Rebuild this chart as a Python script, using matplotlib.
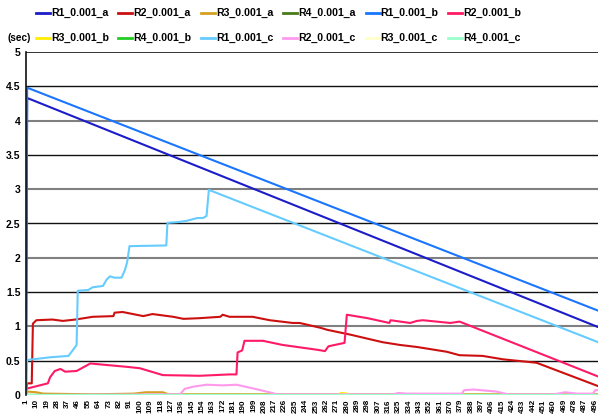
import matplotlib
matplotlib.use("Agg")
import matplotlib.pyplot as plt
from matplotlib.lines import Line2D

plt.rcParams['font.family'] = ['Liberation Sans', 'DejaVu Sans']

names = ["R1_0.001_a", "R2_0.001_a", "R3_0.001_a", "R4_0.001_a", "R1_0.001_b", "R2_0.001_b",
         "R3_0.001_b", "R4_0.001_b", "R1_0.001_c", "R2_0.001_c", "R3_0.001_c", "R4_0.001_c"]
colors = ["#1c1cc8", "#cc1010", "#d4a020", "#4a7a1a", "#1a75ff", "#ff1a66",
          "#ffee00", "#22cc22", "#66ccff", "#ff99ee", "#ffffcc", "#99ffcc"]

# category positions / values for each series (breakpoints)
r1a_x = [1, 2, 500]
r1a_y = [0, 4.33, 0.98]
r2a_x = [1, 2, 6, 7, 10, 24, 33, 44, 59, 77, 78, 85, 103, 111, 129, 138, 152, 170, 172, 178, 198, 213,
         233, 239, 257, 263, 283, 311, 326, 341, 367, 378, 398, 416, 445, 500]
r2a_y = [0.03, 0.17, 0.17, 1.04, 1.09, 1.10, 1.08, 1.10, 1.14, 1.15, 1.20, 1.21, 1.15, 1.18, 1.14, 1.11,
         1.12, 1.14, 1.17, 1.14, 1.14, 1.09, 1.05, 1.05, 0.98, 0.95, 0.88, 0.77, 0.73, 0.70, 0.63, 0.58,
         0.57, 0.52, 0.47, 0.12]
r3a_x = [1, 2, 10, 16, 60, 95, 105, 120, 125, 500]
r3a_y = [0.0, 0.05, 0.04, 0.02, 0.01, 0.02, 0.04, 0.04, 0.01, 0.01]
r4a_x = [1, 500]
r4a_y = [0.0, 0.0]
r1b_x = [1, 2, 500]
r1b_y = [0, 4.48, 1.22]
r2b_x = [1, 20, 22, 26, 31, 35, 45, 57, 63, 89, 100, 120, 152, 178, 184, 185, 189, 191, 207, 224, 254,
         261, 264, 278, 280, 298, 317, 318, 335, 341, 346, 370, 378, 500]
r2b_y = [0.09, 0.17, 0.26, 0.35, 0.38, 0.34, 0.35, 0.46, 0.45, 0.41, 0.39, 0.29, 0.28, 0.30, 0.30, 0.62,
         0.65, 0.79, 0.79, 0.73, 0.66, 0.64, 0.71, 0.76, 1.17, 1.12, 1.05, 1.09, 1.05, 1.08, 1.09, 1.05,
         1.07, 0.26]
r3b_x = [1, 272, 275, 280, 285, 500]
r3b_y = [0.0, 0.0, 0.03, 0.02, 0.0, 0.0]
r4b_x = [1, 500]
r4b_y = [0.0, 0.0]
r1c_x = [1, 2, 22, 38, 42, 45, 46, 55, 59, 68, 71, 74, 78, 84, 87, 89, 91, 123, 124, 133, 141, 150, 155,
         158, 160, 500]
r1c_y = [0.0, 0.51, 0.55, 0.57, 0.66, 0.73, 1.52, 1.53, 1.57, 1.59, 1.68, 1.73, 1.71, 1.71, 1.82, 1.94,
         2.17, 2.18, 2.51, 2.52, 2.54, 2.58, 2.58, 2.61, 2.99, 0.76]
r2c_x = [1, 135, 139, 146, 158, 172, 184, 200, 215, 219, 320, 325, 332, 380, 382, 390, 410, 420, 460,
         470, 480, 494, 496, 500]
r2c_y = [0.0, 0.01, 0.09, 0.12, 0.15, 0.14, 0.15, 0.09, 0.03, 0.01, 0.01, 0.03, 0.02, 0.02, 0.07, 0.08,
         0.05, 0.01, 0.01, 0.04, 0.02, 0.02, 0.07, 0.07]
r3c_x = [1, 500]
r3c_y = [0.0, 0.0]
r4c_x = [1, 500]
r4c_y = [0.0, 0.0]

series = [(r1a_x, r1a_y), (r2a_x, r2a_y), (r3a_x, r3a_y), (r4a_x, r4a_y), (r1b_x, r1b_y), (r2b_x, r2b_y),
          (r3b_x, r3b_y), (r4b_x, r4b_y), (r1c_x, r1c_y), (r2c_x, r2c_y), (r3c_x, r3c_y), (r4c_x, r4c_y)]

tick_cats = list(range(1, 497, 9))

W, H = 598, 415
fig = plt.figure(figsize=(W / 100, H / 100), dpi=100)
ax = fig.add_axes([26 / W, 1 - 395 / H, (598 - 26) / W + 0.004, (395 - 52) / H])

# gridlines
for v in [0.5, 1.5, 2.5, 3.5, 4.5]:
    ax.axhline(v, color="#111111", lw=1.0, zorder=0)
for v in [0, 1, 2, 3, 4]:
    ax.axhline(v, color="#808080", lw=1.5, zorder=0)
ax.axhline(5, color="#111111", lw=1.2, zorder=0)

for (xs, ys), c, n in zip(series, colors, names):
    ax.plot(xs, ys, color=c, lw=1.5, label=n, solid_joinstyle="round")

ax.set_xlim(1, 500.5)
ax.set_ylim(0, 5)
for s in ["top", "right", "bottom"]:
    ax.spines[s].set_visible(False)
ax.spines["left"].set_color("#111111")
ax.spines["left"].set_linewidth(1.2)
ax.set_yticks([0, 0.5, 1, 1.5, 2, 2.5, 3, 3.5, 4, 4.5, 5])
ax.set_yticklabels(["0", "0.5", "1", "1.5", "2", "2.5", "3", "3.5", "4", "4.5", "5"],
                   fontsize=7.5, fontweight="bold")
ax.set_xticks(tick_cats)
ax.set_xticklabels([str(t) for t in tick_cats], rotation=90, fontsize=5.8, fontweight="bold")
ax.tick_params(axis="both", length=0, pad=4)
ax.tick_params(axis="x", pad=3)

# legend (row-major, 6 columns)
for i, (n, c) in enumerate(zip(names, colors)):
    r, col = divmod(i, 6)
    x0 = 36 + col * 82.4
    y = 13 + r * 25
    fig.add_artist(Line2D([x0 / W, (x0 + 14) / W], [1 - y / H, 1 - y / H], color=c, lw=2,
                          transform=fig.transFigure))
    fig.text((x0 + 15) / W, 1 - y / H, n, fontsize=7.6, fontweight="bold", va="center", ha="left")

fig.text(8 / W, 1 - 38 / H, "(sec)", fontsize=7.2, fontweight="bold", va="center", ha="left")

fig.savefig("out.png", dpi=100)
